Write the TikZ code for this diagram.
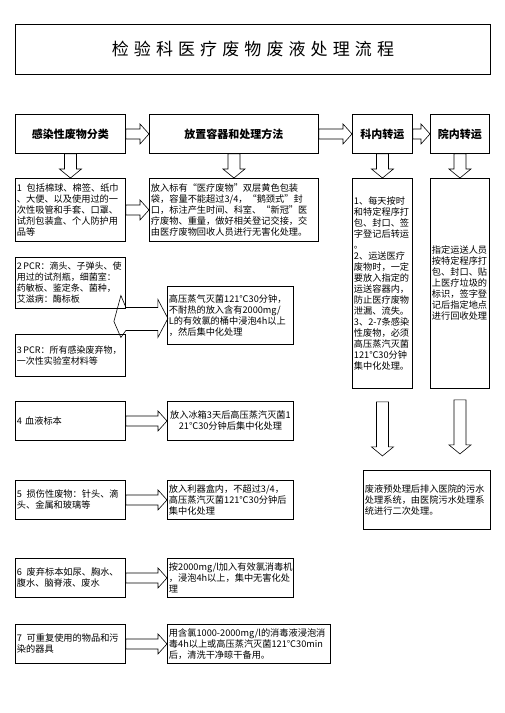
\documentclass[tikz,border=0pt]{standalone}
\usepackage{fontspec}
\setmainfont{Noto Sans CJK SC}
\newfontfamily\titlefont[LetterSpace=30]{Noto Sans CJK SC}
\usetikzlibrary{calc}

\tikzset{
	box/.style={draw, line width=0.9pt, anchor=north west, inner sep=1.5pt, align=left, font=\fontsize{9.2}{11}\selectfont},
	head/.style={draw, line width=0.9pt, anchor=north west, inner sep=1.5pt, font=\bfseries\fontsize{11}{13}\selectfont},
	blk/.style={draw, line width=0.6pt, line join=miter},
}

\newcommand\harrow[2]{%
	\draw[blk] let \p1=(#1), \p2=(#2) in
		(\x1,\y1+5pt) -- (\x2-9pt,\y1+5pt) -- (\x2-9pt,\y1+10pt) -- (\x2,\y1)
		-- (\x2-9pt,\y1-10pt) -- (\x2-9pt,\y1-5pt) -- (\x1,\y1-5pt) -- cycle;}
\newcommand\varrow[2]{%
	\draw[blk] let \p1=(#1), \p2=(#2) in
		(\x1-6pt,\y1) -- (\x1-6pt,\y2+9pt) -- (\x1-11pt,\y2+9pt) -- (\x1,\y2)
		-- (\x1+11pt,\y2+9pt) -- (\x1+6pt,\y2+9pt) -- (\x1+6pt,\y1) -- cycle;}

\begin{document}
\begin{tikzpicture}[x=1pt, y=-1pt]
		\useasboundingbox (0,0) rectangle (504,713);
		\node [draw, line width=0.9pt, anchor=north west, minimum width=475pt, minimum height=50pt, font=\titlefont\fontsize{17}{19}\selectfont] (title) at (15,24) {检验科医疗废物废液处理流程};

		\node [head, minimum width=110pt, minimum height=39pt] (h1) at (15,114) {感染性废物分类};
		\node [head, minimum width=169pt, minimum height=39pt] (h2) at (149,114) {放置容器和处理方法};
		\node [head, minimum width=60pt, minimum height=39pt] (h3) at (352,114) {科内转运};
		\node [head, minimum width=59pt, minimum height=39pt] (h4) at (430,114) {院内转运};

		\node [box, text width=107pt, minimum height=63pt] (b1) at (15,178) {1\enspace 包括棉球、棉签、纸巾\\、大便、以及使用过的一\\次性吸管和手套、口罩、\\试剂包装盒、个人防护用\\品等};
		\node [box, text width=107pt, minimum height=51pt, font=\fontsize{9}{11}\selectfont] (b2) at (15,257) {2\,PCR：滴头、子弹头、使\\用过的试剂瓶，细菌室：\\药敏板、鉴定条、菌种，\\艾滋病：酶标板};
		\node [box, text width=107pt, minimum height=42pt, font=\fontsize{9}{11}\selectfont] (b3) at (15,334) {3\,PCR：所有感染废弃物，\\一次性实验室材料等};
		\node [box, text width=107pt, minimum height=39pt] (b4) at (15,401) {4 血液标本};
		\node [box, text width=107pt, minimum height=39pt] (b5) at (15,480) {5\enspace 损伤性废物：针头、滴\\头、金属和玻璃等};
		\node [box, text width=107pt, minimum height=39pt] (b6) at (15,558) {6\enspace 废弃标本如尿、胸水、\\腹水、脑脊液、废水};
		\node [box, text width=107pt, minimum height=39pt] (b7) at (15,624) {7\enspace 可重复使用的物品和污\\染的器具};

		\node [box, text width=166pt, minimum height=63pt] (c1) at (149,178) {放入标有“医疗废物”双层黄色包装\\袋，容量不能超过3/4，“鹅颈式”封\\口，标注产生时间、科室、“新冠”医\\疗废物、重量，做好相关登记交接，交\\由医疗废物回收人员进行无害化处理。};
		\node [box, text width=123pt, minimum height=58pt] (c2) at (167,286) {高压蒸气灭菌121℃30分钟，\\不耐热的放入含有2000mg/\\L的有效氯的桶中浸泡4h以上\\，然后集中化处理};
		\node [box, text width=123pt, minimum height=39pt, align=center] (c3) at (167,401) {放入冰箱3天后高压蒸汽灭菌1\\21℃30分钟后集中化处理};
		\node [box, text width=123pt, minimum height=39pt] (c4) at (167,480) {放入利器盒内，不超过3/4，\\高压蒸汽灭菌121℃30分钟后\\集中化处理};
		\node [box, text width=123pt, minimum height=39pt] (c5) at (167,558) {按2000mg/l加入有效氯消毒机\\，浸泡4h以上，集中无害化处\\理};
		\node [box, text width=160pt, minimum height=39pt] (c6) at (167,624) {用含氯1000-2000mg/l的消毒液浸泡消\\毒4h以上或高压蒸汽灭菌121℃30min\\后，清洗干净晾干备用。};

		\node [box, text width=57pt, minimum height=210pt] (k3) at (352,178) {1、每天按时\\和特定程序打\\包、封口、签\\字登记后转运\\。\\2、运送医疗\\废物时，一定\\要放入指定的\\运送容器内，\\防止医疗废物\\泄漏、流失。\\3、2-7条感染\\性废物，必须\\高压蒸汽灭菌\\121℃30分钟\\集中化处理。};
		\node [box, text width=56pt, minimum height=210pt] (k4) at (430,178) {指定运送人员\\按特定程序打\\包、封口、贴\\上医疗垃圾的\\标识，签字登\\记后指定地点\\进行回收处理};
		\node [box, text width=124pt, minimum height=59pt] (ws) at (363,470) {废液预处理后排入医院的污水\\处理系统，由医院污水处理系\\统进行二次处理。};

		\harrow{h1.east}{h2.west}
		\harrow{h2.east}{h3.west}
		\harrow{h3.east}{h4.west}
		\varrow{h1.south}{b1.north}
		\varrow{h2.south}{c1.north}
		\varrow{h3.south}{k3.north}
		\varrow{h4.south}{k4.north}

		\harrow{b1.east}{c1.west}
		\coordinate (m) at ($(b2.south east)!0.5!(b3.north east)$);
		\draw [blk, shift={(m)}] (-5,-26) -- (-12,0) -- (-5,16) -- (0,9) -- (32,9) -- (32,16) -- (42,-3)
			-- (32,-22) -- (32,-14) -- (0,-14) -- cycle;
		\harrow{b4.east}{c3.west}
		\harrow{b5.east}{c4.west}
		\harrow{b6.east}{c5.west}
		\harrow{b7.east}{c6.west}

		\coordinate (a3) at ([yshift=-13pt]k3.south);
		\coordinate (z3) at ([yshift=-67pt]k3.south);
		\coordinate (a4) at ([yshift=-11pt]k4.south);
		\coordinate (z4) at ([yshift=-65pt]k4.south);
		\varrow{a3}{z3}
		\varrow{a4}{z4}
	\end{tikzpicture}
\end{document}
